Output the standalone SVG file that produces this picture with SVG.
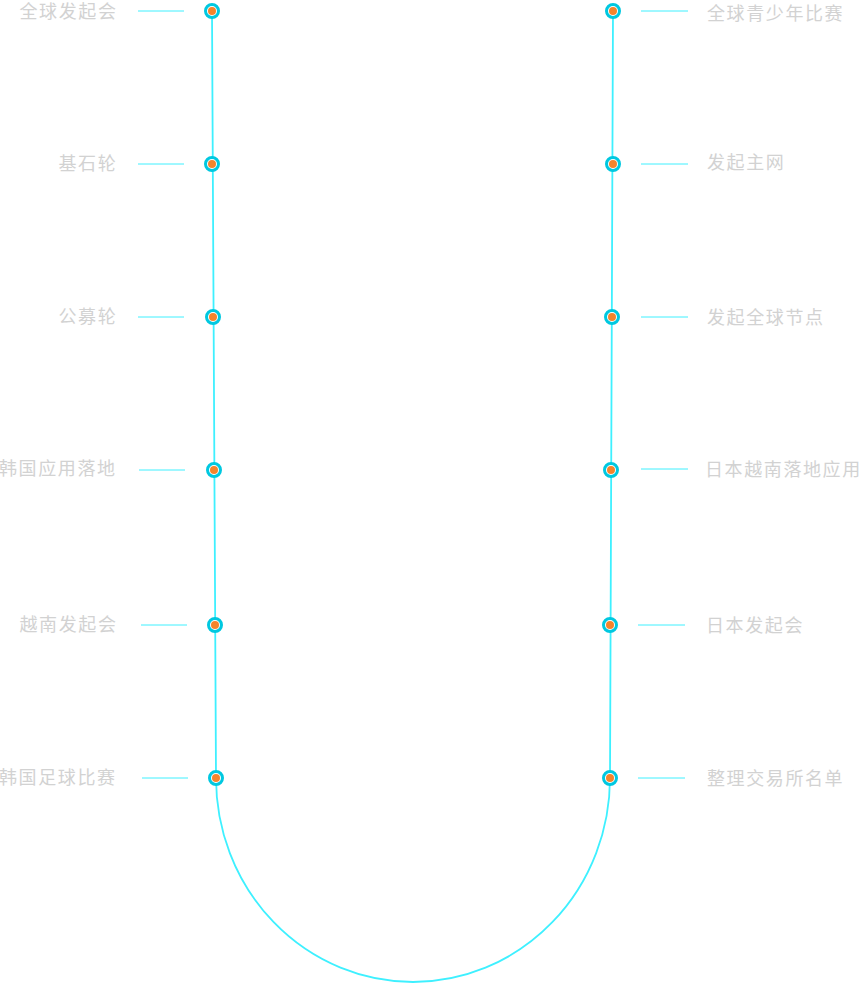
<svg xmlns="http://www.w3.org/2000/svg" width="859" height="985" viewBox="0 0 859 985">
<style>
.lbl{font-family:"Noto Sans CJK SC","Noto Sans",sans-serif;font-size:18px;fill:#d2d2d2;letter-spacing:1.6px}
.track{fill:none;stroke:#3ef0ff;stroke-width:1.8}
.tick{stroke:#3ef0ff;stroke-width:1}
.ring{fill:#fff;stroke:#00c8e0;stroke-width:3}
.dot{fill:#f5842c}
</style>
<rect width="859" height="985" fill="#fff"/>
<g id="connectors">
<path class="track" d="M212 11 L216 778 A197 204 0 0 0 610 778 L613 11"/>
<line class="tick" x1="138" y1="11" x2="184" y2="11"/>
<line class="tick" x1="138" y1="164" x2="184" y2="164"/>
<line class="tick" x1="138" y1="317" x2="184" y2="317"/>
<line class="tick" x1="139" y1="470" x2="185" y2="470"/>
<line class="tick" x1="141" y1="625" x2="187" y2="625"/>
<line class="tick" x1="142" y1="778" x2="188" y2="778"/>
<line class="tick" x1="641" y1="11" x2="688" y2="11"/>
<line class="tick" x1="641" y1="164" x2="688" y2="164"/>
<line class="tick" x1="641" y1="317" x2="688" y2="317"/>
<line class="tick" x1="641" y1="469" x2="688" y2="469"/>
<line class="tick" x1="638" y1="625" x2="685" y2="625"/>
<line class="tick" x1="638" y1="778" x2="685" y2="778"/>
</g>
<g id="n1"><circle class="ring" cx="212" cy="11" r="6.5"/><circle class="dot" cx="212" cy="11" r="4"/><text class="lbl" x="19.5" y="18">全球发起会</text></g>
<g id="n2"><circle class="ring" cx="212" cy="164" r="6.5"/><circle class="dot" cx="212" cy="164" r="4"/><text class="lbl" x="58.5" y="170">基石轮</text></g>
<g id="n3"><circle class="ring" cx="213" cy="317" r="6.5"/><circle class="dot" cx="213" cy="317" r="4"/><text class="lbl" x="58.5" y="323">公募轮</text></g>
<g id="n4"><circle class="ring" cx="214" cy="470" r="6.5"/><circle class="dot" cx="214" cy="470" r="4"/><text class="lbl" x="-1" y="475">韩国应用落地</text></g>
<g id="n5"><circle class="ring" cx="215" cy="625" r="6.5"/><circle class="dot" cx="215" cy="625" r="4"/><text class="lbl" x="19.5" y="631">越南发起会</text></g>
<g id="n6"><circle class="ring" cx="216" cy="778" r="6.5"/><circle class="dot" cx="216" cy="778" r="4"/><text class="lbl" x="-1" y="784">韩国足球比赛</text></g>
<g id="n7"><circle class="ring" cx="613" cy="11" r="6.5"/><circle class="dot" cx="613" cy="11" r="4"/><text class="lbl" x="707" y="20">全球青少年比赛</text></g>
<g id="n8"><circle class="ring" cx="613" cy="164" r="6.5"/><circle class="dot" cx="613" cy="164" r="4"/><text class="lbl" x="707" y="169">发起主网</text></g>
<g id="n9"><circle class="ring" cx="612" cy="317" r="6.5"/><circle class="dot" cx="612" cy="317" r="4"/><text class="lbl" x="707" y="324">发起全球节点</text></g>
<g id="n10"><circle class="ring" cx="611" cy="470" r="6.5"/><circle class="dot" cx="611" cy="470" r="4"/><text class="lbl" x="705" y="476">日本越南落地应用</text></g>
<g id="n11"><circle class="ring" cx="610" cy="625" r="6.5"/><circle class="dot" cx="610" cy="625" r="4"/><text class="lbl" x="706" y="632">日本发起会</text></g>
<g id="n12"><circle class="ring" cx="610" cy="778" r="6.5"/><circle class="dot" cx="610" cy="778" r="4"/><text class="lbl" x="707" y="785">整理交易所名单</text></g>
</svg>
